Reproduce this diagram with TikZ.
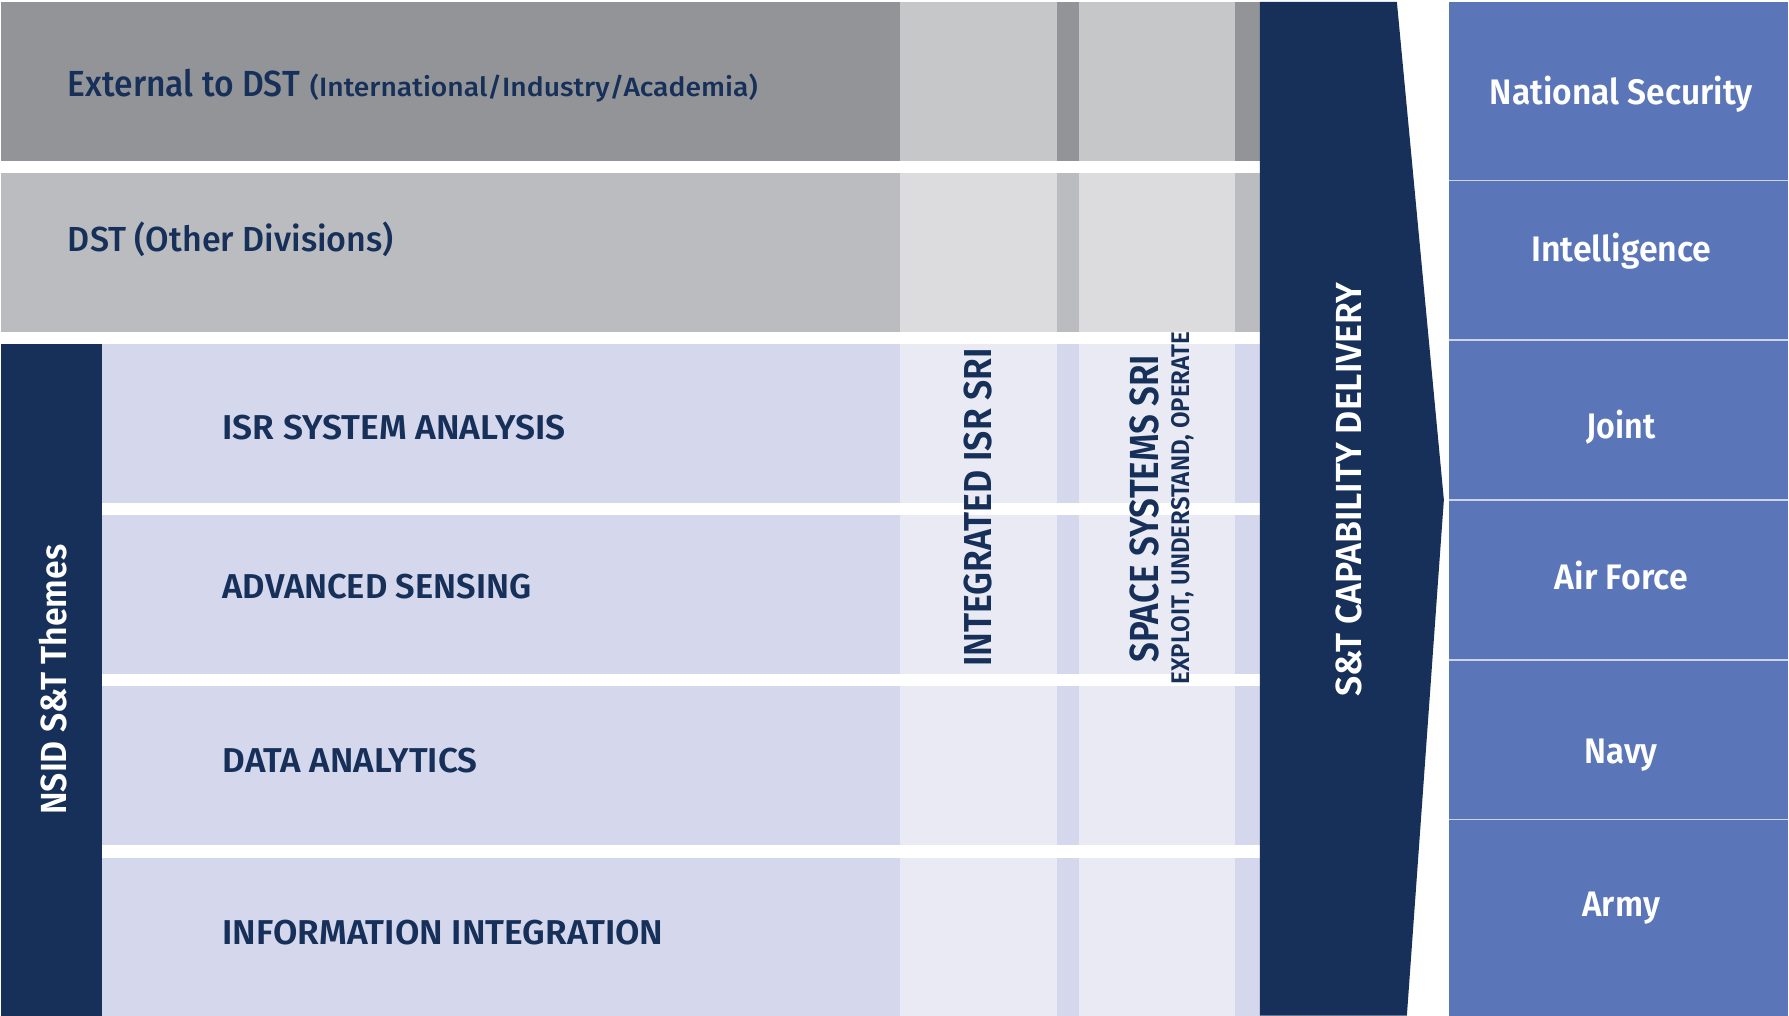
\documentclass[tikz,border=0pt]{standalone}
\usepackage{fontspec}
\setmainfont{Fira Sans}[BoldFont={Fira Sans SemiBold}]
\newfontfamily\medfont{Fira Sans Medium}
\usepackage{graphicx}

\definecolor{navy}{HTML}{163059}
\definecolor{extmain}{HTML}{939498}
\definecolor{extcol}{HTML}{C6C7C9}
\definecolor{dstmain}{HTML}{BBBCC0}
\definecolor{dstcol}{HTML}{DCDCDE}
\definecolor{thmain}{HTML}{D5D8EC}
\definecolor{thcol}{HTML}{E9EAF4}
\definecolor{svcblue}{HTML}{5A76B8}
\definecolor{svcline}{HTML}{CCD5EC}

% stretch a label horizontally to a given width (in pt), keeping its height
\newlength\fitlen
\newcommand\fitw[2]{\settowidth\fitlen{#2}\pgfmathsetmacro\fitr{#1/\fitlen}\scalebox{\fitr}[1]{#2}}
\newcommand\fsz[1]{\fontsize{#1}{#1}\selectfont}

\begin{document}
\begin{tikzpicture}[x=1pt,y=-1pt,
  lbl/.style={inner sep=0pt, outer sep=0pt, text=navy, font=\bfseries},
  wlbl/.style={lbl, text=white},
  ]
\fill[white] (0,0) rectangle (1789,1016);

% ---- band rows: main part, two SRI columns with side strips ----
\newcommand\bandrow[4]{% top, bottom, main colour, column colour
  \fill[#3] (1,#1) rectangle (1260.5,#2);
  \fill[#4] (900.5,#1) rectangle (1057,#2);
  \fill[#4] (1079.5,#1) rectangle (1236,#2);
}
\bandrow{2}{161}{extmain}{extcol}
\bandrow{173}{332}{dstmain}{dstcol}
\bandrow{344}{503}{thmain}{thcol}
\bandrow{515}{674}{thmain}{thcol}
\bandrow{686}{845}{thmain}{thcol}
\bandrow{858}{1016}{thmain}{thcol}

% themes side bar
\fill[navy] (1,344) rectangle (102,1016);

% capability delivery arrow
\fill[navy] (1260.5,2) -- (1397.5,2) -- (1444.5,500) -- (1407.5,1016) -- (1260.5,1016) -- cycle;

% customer boxes
\fill[svcblue] (1450,2) rectangle (1789,1016);
\foreach \yy in {180.5,340,500,660,820}
  \draw[svcline, line width=1.6pt] (1450,\yy) -- (1789,\yy);

% ---- labels on the bands ----
\node[lbl, anchor=base west, font=\medfont\fsz{36.3}] (ext) at (68,96.7) {\fitw{232}{External to DST}};
\node[lbl, anchor=base west, font=\medfont\fsz{26.5}] (extsub) at (310,96.7) {\fitw{448}{(International/Industry/Academia)}};
\node[lbl, anchor=base west, font=\medfont\fsz{34.8}] (dst) at (68,251.7) {\fitw{326}{DST (Other Divisions)}};

\node[lbl, anchor=base west, font=\bfseries\fsz{34.5}] (isr) at (222.7,440) {\fitw{343}{ISR SYSTEM ANALYSIS}};
\node[lbl, anchor=base west, font=\bfseries\fsz{34.5}] (adv) at (222.7,598.3) {\fitw{309}{ADVANCED SENSING}};
\node[lbl, anchor=base west, font=\bfseries\fsz{34.5}] (data) at (222.7,773) {\fitw{255}{DATA ANALYTICS}};
\node[lbl, anchor=base west, font=\bfseries\fsz{34.5}] (info) at (222.7,945) {\fitw{441}{INFORMATION INTEGRATION}};

% ---- vertical labels ----
\node[wlbl, rotate=90, anchor=base west, font=\bfseries\fsz{36.3}] (nsid) at (66.7,815) {\fitw{270}{NSID S\&T Themes}};
\node[lbl, rotate=90, anchor=base west, font=\bfseries\fsz{39}] (isrsri) at (991.6,667) {\fitw{319}{INTEGRATED ISR SRI}};
\node[lbl, rotate=90, anchor=base west, font=\bfseries\fsz{40.6}] (space) at (1159,663) {\fitw{308}{SPACE SYSTEMS SRI}};
\node[lbl, rotate=90, anchor=base west, font=\bfseries\fsz{25.5}] (exploit) at (1189.8,685) {\fitw{353}{EXPLOIT, UNDERSTAND, OPERATE}};
\node[wlbl, rotate=90, anchor=base west, font=\bfseries\fsz{36.3}] (deliv) at (1361.7,697) {\fitw{414}{S\&T CAPABILITY DELIVERY}};

% ---- customer labels ----
\node[wlbl, anchor=base, font=\bfseries\fsz{35.5}] (natsec) at (1622,105) {\fitw{263}{National Security}};
\node[wlbl, anchor=base, font=\bfseries\fsz{35.5}] (intel) at (1622,262) {\fitw{180.5}{Intelligence}};
\node[wlbl, anchor=base, font=\bfseries\fsz{35.5}] (joint) at (1622,438.3) {\fitw{69}{Joint}};
\node[wlbl, anchor=base, font=\bfseries\fsz{35.5}] (airf) at (1622,590) {\fitw{133}{Air Force}};
\node[wlbl, anchor=base, font=\bfseries\fsz{35.5}] (navy) at (1622,764) {\fitw{73}{Navy}};
\node[wlbl, anchor=base, font=\bfseries\fsz{35.5}] (army) at (1622,917.3) {\fitw{77.5}{Army}};
\end{tikzpicture}
\end{document}
